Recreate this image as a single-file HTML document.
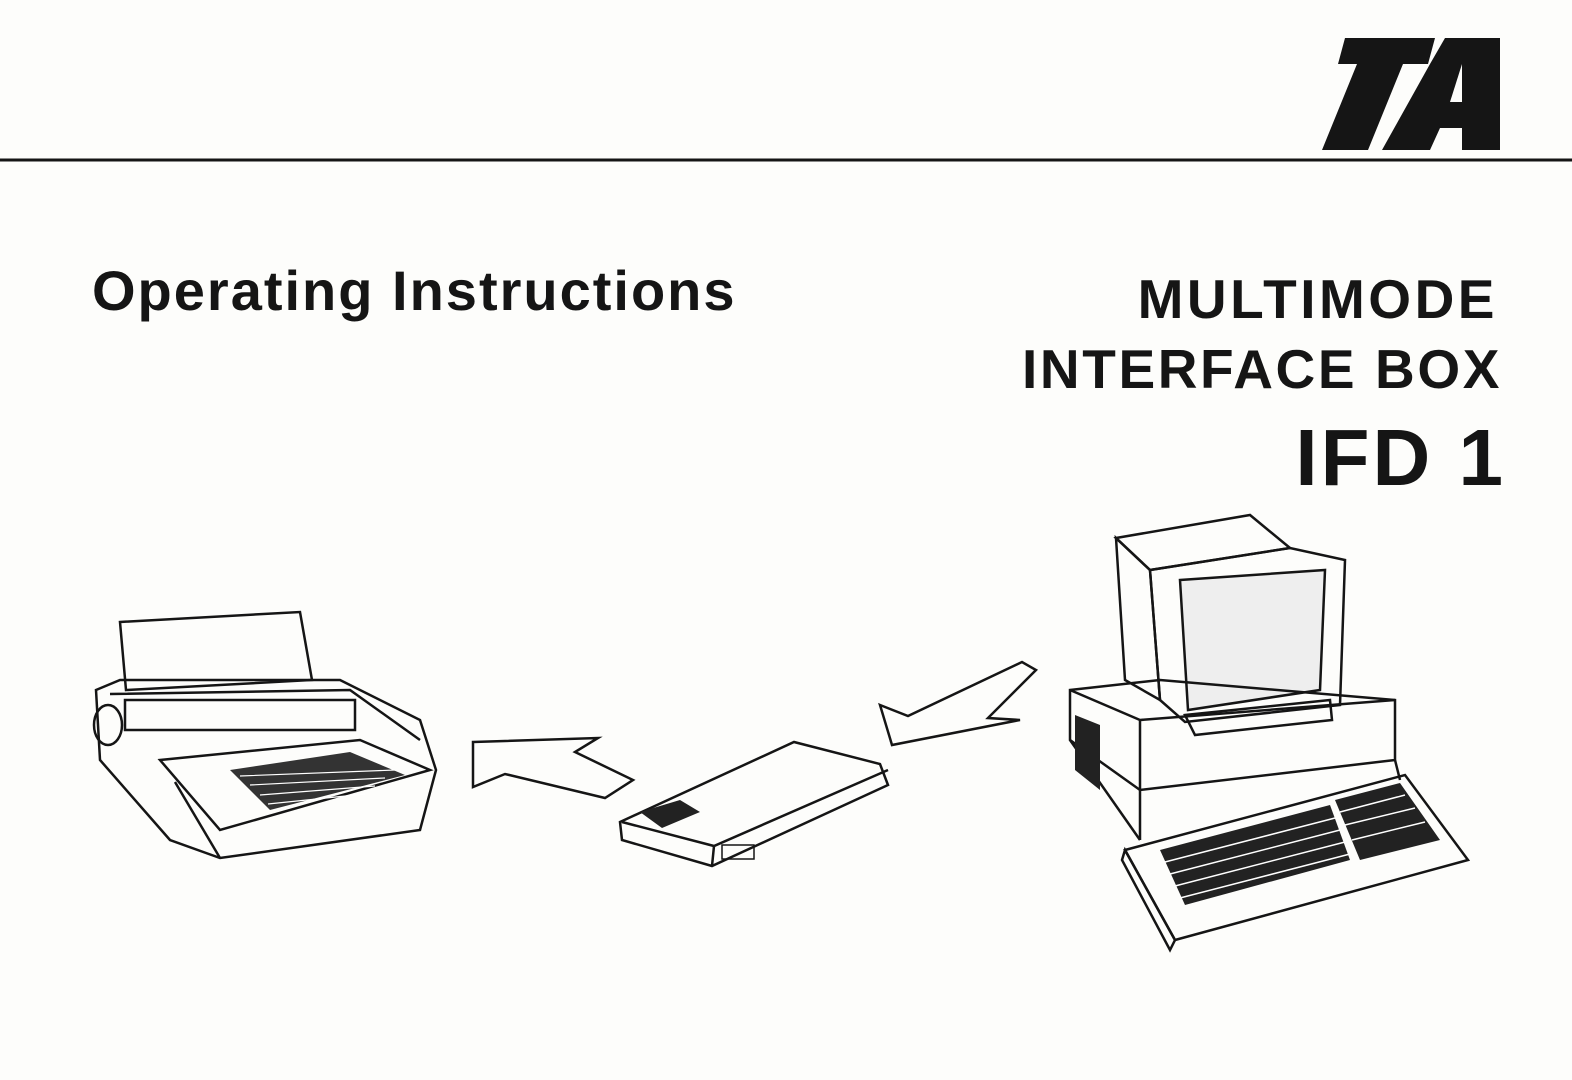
<!DOCTYPE html>
<html><head><meta charset="utf-8"><style>
body{margin:0;background:#fdfdfb;}
.w{position:relative;width:1572px;height:1080px;overflow:hidden;font-family:"Liberation Sans",sans-serif;color:#151515;}
.t{position:absolute;font-weight:bold;white-space:nowrap;}
</style></head><body><div class="w">
<svg width="1572" height="1080" style="position:absolute;left:0;top:0">
<polygon points="1345,38 1435,38 1428,64 1403,64 1368,150 1322,150 1357,64 1338,64" fill="#151515"/>
<polygon points="1445,38 1500,38 1500,150 1462,150 1462,128 1440,128 1430,150 1382,150 1430,64" fill="#151515"/>
<polygon points="1462,64 1462,102 1450,102" fill="#fdfdfb"/>
<line x1="0" y1="160" x2="1572" y2="160" stroke="#151515" stroke-width="3"/>
<g fill="none" stroke="#151515" stroke-width="2.5">
<polygon points="473,742 598,738 575,752 633,780 605,798 505,774 473,787"/>
<polygon points="880,705 908,716 1022,662 1036,670 988,718 1020,720 892,745"/>
<polygon points="620,822 794,742 880,764 888,785 712,866 622,840"/>
<polyline points="622,822 714,846 888,770"/>
<line x1="714" y1="846" x2="712" y2="866"/>
<rect x="722" y="845" width="32" height="14" stroke-width="1.5"/>
<polygon points="96,690 120,680 340,680 420,720 436,770 420,830 220,858 170,840 100,760"/>
<polygon points="120,622 300,612 312,680 126,690"/>
<polyline points="110,694 350,690 420,740"/>
<rect x="125" y="700" width="230" height="30"/>
<polygon points="160,760 360,740 430,770 220,830"/>
<ellipse cx="108" cy="725" rx="14" ry="20"/>
<line x1="175" y1="782" x2="220" y2="858"/>
</g>
<polygon points="640,812 680,800 700,812 662,828" fill="#222"/>
<g fill="#333"><polygon points="230,770 350,752 405,775 270,810"/></g>
<g fill="none" stroke="#fff" stroke-width="1.2">
<path d="M240,776 L395,770 M250,785 L385,778 M260,795 L375,786 M268,804 L365,794"/>
</g>
<g fill="none" stroke="#151515" stroke-width="2.5">
<polygon points="1116,538 1250,515 1290,548 1150,570"/>
<polygon points="1116,538 1150,570 1160,700 1125,680"/>
<polygon points="1150,570 1290,548 1345,560 1340,705 1185,722 1160,700"/>
<polygon points="1180,580 1325,570 1320,690 1188,710" fill="#eee"/>
<polygon points="1185,715 1330,700 1332,720 1195,735"/>
<polygon points="1070,690 1160,680 1395,700 1395,760 1140,790 1070,740"/>
<polyline points="1070,690 1140,720 1395,700"/>
<line x1="1140" y1="720" x2="1140" y2="840"/>
<line x1="1070" y1="740" x2="1140" y2="840"/>
<line x1="1395" y1="760" x2="1400" y2="780"/>
<polygon points="1125,850 1405,775 1468,860 1175,940"/>
<polygon points="1125,850 1175,940 1170,950 1122,860"/>
</g>
<g fill="#222">
<polygon points="1160,850 1330,805 1350,860 1185,905"/>
<polygon points="1335,800 1400,783 1440,840 1360,860"/>
<polygon points="1075,715 1100,725 1100,790 1075,770"/>
</g>
<g stroke="#fff" stroke-width="1.5">
<path d="M1165,862 L1335,818 M1170,874 L1340,830 M1175,886 L1345,842 M1180,898 L1350,854 M1340,812 L1405,795 M1345,825 L1415,808 M1352,840 L1425,822"/>
</g>
</svg>
<div class="t" style="left:92px;top:258px;font-size:56px;letter-spacing:2px;">Operating Instructions</div>
<div class="t" style="right:74px;top:267px;font-size:55px;letter-spacing:3.5px;">MULTIMODE</div>
<div class="t" style="right:70px;top:337px;font-size:55px;letter-spacing:2.6px;">INTERFACE BOX</div>
<div class="t" style="right:66px;top:412px;font-size:80px;letter-spacing:3px;">IFD 1</div>
</div></body></html>
